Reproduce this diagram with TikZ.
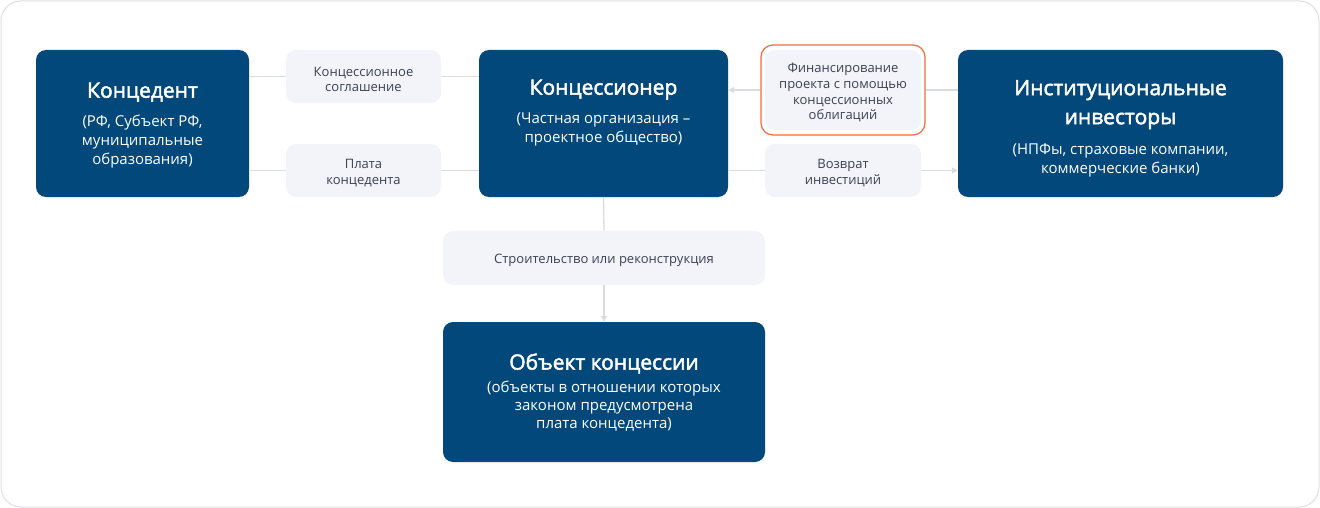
\documentclass[tikz,border=0pt]{standalone}
\usepackage{fontspec}
\setmainfont{Open Sans}
\newfontfamily\titlefont[FakeBold=2.2]{Open Sans}
\usepackage{tikz}
\usetikzlibrary{arrows.meta}

\definecolor{navy}{HTML}{03487A}
\definecolor{cloud}{HTML}{F3F4F9}
\definecolor{rail}{HTML}{D9DCE2}
\definecolor{ember}{HTML}{F26A3F}
\definecolor{ink}{HTML}{3C4152}
\definecolor{frame}{HTML}{DEDFE3}

\begin{document}
\begin{tikzpicture}[x = 1pt, y = -1pt,
                    actor/.style = {rectangle, rounded corners = 10pt, fill = navy, text = white,
                                    align = center, inner sep = 0pt,
                                    font = \fontsize{15}{19}\selectfont},
                    tag/.style = {rectangle, rounded corners = 10pt, fill = cloud, text = ink,
                                  align = center, inner sep = 0pt,
                                  font = \fontsize{13}{15.8}\selectfont},
                    flow/.style = {draw = rail, line width = 1.3pt},
                    tip/.style = {-{Triangle[length = 6pt, width = 6pt]}}]

\useasboundingbox (0,0) rectangle (1320,508);
\draw[frame, line width = 1pt, rounded corners = 20pt] (1,1) rectangle (1319,507);

% participants
\node [actor, minimum width = 213pt, minimum height = 147pt] (Kdnt) at (142.5,123.5)
  {{\titlefont\fontsize{21}{29}\selectfont \rule{0pt}{19pt}Концедент}\\[10pt]
   (РФ, Субъект РФ,\\ муниципальные\\ образования)};
\node [actor, minimum width = 249pt, minimum height = 147pt] (Kner) at (603.5,123.5)
  {{\titlefont\fontsize{21}{29}\selectfont Концессионер}\\[10pt]
   (Частная организация --\\ проектное общество)\\ \strut};
\node [actor, minimum width = 325pt, minimum height = 147pt] (Invs) at (1120.5,123.5)
  {{\titlefont\fontsize{21}{29}\selectfont \rule{0pt}{25pt}Институциональные}\\[10pt]
   {\titlefont\fontsize{21}{29}\selectfont инвесторы}\\[11pt]
   (НПФы, страховые компании,\\ коммерческие банки)};
\node [actor, minimum width = 322pt, minimum height = 140pt] (Objt) at (604,392)
  {{\titlefont\fontsize{21}{29}\selectfont \rule{0pt}{17pt}Объект концессии}\\[4pt]
   (объекты в отношении которых\\[-1pt] законом предусмотрена\\[-1pt] плата концедента)};

% relations
\node [tag, minimum width = 155pt, minimum height = 53pt] (Sogl) at (363.5,76.5)
  {\rule{0pt}{15pt}Концессионное\\ соглашение};
\node [tag, minimum width = 155pt, minimum height = 53pt] (Plat) at (363.5,170.5)
  {\rule{0pt}{15pt}Плата\\ концедента};
\node [rectangle, rounded corners = 12pt, draw = ember, line width = 1.2pt, fill = white,
       minimum width = 164pt, minimum height = 90pt] (FinF) at (843,90) {};
\node [tag, minimum width = 156pt, minimum height = 80pt] (Fina) at (843,90)
  {\rule{0pt}{15pt}Финансирование\\ проекта с помощью\\ концессионных\\ облигаций};
\node [tag, minimum width = 156pt, minimum height = 53pt] (Vozv) at (843,170.5)
  {\rule{0pt}{15pt}Возврат\\ инвестиций};
\node [tag, minimum width = 322pt, minimum height = 54pt] (Stro) at (604,258)
  {\rule{0pt}{14pt}Строительство или реконструкция};

\draw[flow] (Kdnt.east |- Sogl) -- (Sogl.west);
\draw[flow] (Sogl.east) -- (Kner.west |- Sogl);
\draw[flow] (Kdnt.east |- Plat) -- (Plat.west);
\draw[flow] (Plat.east) -- (Kner.west |- Plat);

\draw[flow] (Invs.west |- Fina) -- (FinF.east);
\draw[flow, tip] (FinF.west) -- (Kner.east |- Fina);
\draw[flow] (Kner.east |- Vozv) -- (Vozv.west);
\draw[flow, tip] (Vozv.east) -- (Invs.west |- Vozv);

\draw[flow] (Kner.south) -- (Stro.north);
\draw[flow, tip] (Stro.south) -- (Objt.north);

\end{tikzpicture}
\end{document}
